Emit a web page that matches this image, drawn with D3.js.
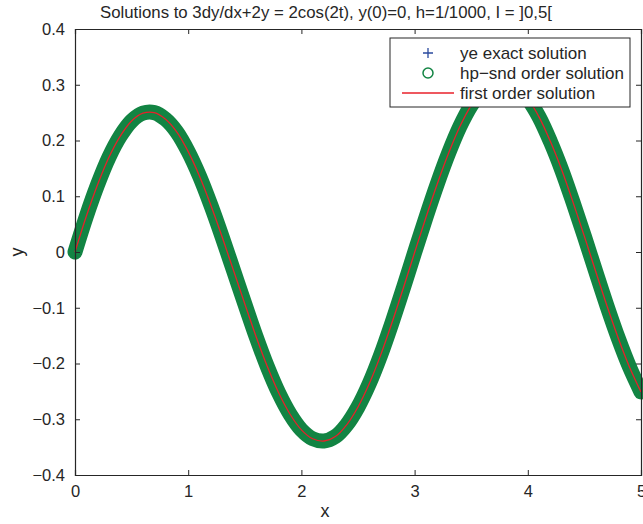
<!DOCTYPE html>
<html>
<head>
<meta charset="utf-8">
<script src="https://cdn.jsdelivr.net/npm/d3@7"></script>
<style>
  body { margin: 0; background: #fff; }
  text { font-family: "Liberation Sans", Arial, Helvetica, sans-serif; fill: #262626; }
</style>
</head>
<body>
<div id="chart"></div>
<script>
// values, every 0.1 in x
const xs = [0, 0.1, 0.2, 0.3, 0.4, 0.5, 0.6, 0.7, 0.8, 0.9,
  1.0, 1.1, 1.2, 1.3, 1.4, 1.5, 1.6, 1.7, 1.8, 1.9,
  2.0, 2.1, 2.2, 2.3, 2.4, 2.5, 2.6, 2.7, 2.8, 2.9,
  3.0, 3.1, 3.2, 3.3, 3.4, 3.5, 3.6, 3.7, 3.8, 3.9,
  4.0, 4.1, 4.2, 4.3, 4.4, 4.5, 4.6, 4.7, 4.8, 4.9, 5.0];
const ys = [0, 0.064, 0.121, 0.170, 0.208, 0.235, 0.249, 0.250, 0.238, 0.215,
  0.180, 0.136, 0.084, 0.027, -0.033, -0.093, -0.152, -0.206, -0.253, -0.291,
  -0.319, -0.335, -0.339, -0.331, -0.310, -0.278, -0.236, -0.185, -0.127, -0.065,
  -0.001, 0.062, 0.122, 0.177, 0.225, 0.263, 0.290, 0.305, 0.308, 0.298,
  0.275, 0.242, 0.198, 0.147, 0.089, 0.028, -0.035, -0.097, -0.155, -0.207, -0.251];

const xTicks = [0, 1, 2, 3, 4, 5];
const yTicks = [-0.4, -0.3, -0.2, -0.1, 0, 0.1, 0.2, 0.3, 0.4];
const legendLabels = ['ye exact solution', 'hp\u2212snd order solution', 'first order solution'];

const width = 643, height = 524;
const mLeft = 75, mRight = 641, mTop = 29, mBottom = 475;
const green = '#128443', red = '#e8202a', blue = '#2a4a9e', axisColor = '#262626';

const svg = d3.select('#chart').append('svg')
  .attr('width', width)
  .attr('height', height);

const x = d3.scaleLinear().domain([0, 5]).range([mLeft, mRight]);
const y = d3.scaleLinear().domain([-0.4, 0.4]).range([mBottom, mTop]);

const pts = xs.map((v, i) => [v, ys[i]]);
const line = d3.line()
  .x(d => x(d[0]))
  .y(d => y(d[1]))
  .curve(d3.curveCatmullRom);

// exact solution (covered by the other two)
svg.append('path').attr('d', line(pts))
  .attr('fill', 'none').attr('stroke', blue).attr('stroke-width', 6);
// hp-snd order solution: dense circle markers form a band
svg.append('path').attr('d', line(pts))
  .attr('fill', 'none').attr('stroke', green)
  .attr('stroke-width', 15).attr('stroke-linecap', 'round').attr('stroke-linejoin', 'round');
// first order solution
svg.append('path').attr('d', line(pts))
  .attr('fill', 'none').attr('stroke', red).attr('stroke-width', 1.3);

// axes box
const fmtY = d => d === 0 ? '0' : (d < 0 ? '\u2212' + Math.abs(d).toFixed(1) : d.toFixed(1));

const xAxisB = svg.append('g').attr('transform', `translate(0,${mBottom})`)
  .call(d3.axisBottom(x).tickValues(xTicks).tickSize(-5).tickPadding(10).tickFormat(d3.format('d')));
const xAxisT = svg.append('g').attr('transform', `translate(0,${mTop})`)
  .call(d3.axisTop(x).tickValues(xTicks).tickSize(-5).tickFormat(''));
const yAxisL = svg.append('g').attr('transform', `translate(${mLeft},0)`)
  .call(d3.axisLeft(y).tickValues(yTicks).tickSize(-5).tickPadding(10).tickFormat(fmtY));
const yAxisR = svg.append('g').attr('transform', `translate(${mRight},0)`)
  .call(d3.axisRight(y).tickValues(yTicks).tickSize(-5).tickFormat(''));

[xAxisB, xAxisT, yAxisL, yAxisR].forEach(g => {
  g.select('.domain').attr('stroke', axisColor).attr('stroke-width', 1.2);
  g.selectAll('.tick line').attr('stroke', axisColor).attr('stroke-width', 1);
  g.selectAll('.tick text').attr('font-size', 16.5).attr('fill', axisColor)
    .style('font-family', '"Liberation Sans", Arial, sans-serif');
});

// title and axis labels
svg.append('text').attr('x', 326).attr('y', 18).attr('text-anchor', 'middle')
  .attr('font-size', 16.8).text('Solutions to 3dy/dx+2y = 2cos(2t), y(0)=0, h=1/1000, I = ]0,5[');
svg.append('text').attr('x', 325).attr('y', 517).attr('text-anchor', 'middle')
  .attr('font-size', 18).text('x');
svg.append('text').attr('transform', 'translate(23,252) rotate(-90)').attr('text-anchor', 'middle')
  .attr('font-size', 18).text('y');

// legend
const lg = svg.append('g');
lg.append('rect').attr('x', 390).attr('y', 38).attr('width', 240).attr('height', 69)
  .attr('fill', '#fff').attr('stroke', axisColor).attr('stroke-width', 1);
const rowY = [53, 73, 93];
lg.selectAll('text.lab').data(legendLabels).enter().append('text')
  .attr('class', 'lab')
  .attr('x', 460).attr('y', (d, i) => rowY[i]).attr('dy', '0.35em')
  .attr('font-size', 17).text(d => d);
lg.append('path')
  .attr('d', `M${428 - 5},${rowY[0]}h10M${428},${rowY[0] - 5}v10`)
  .attr('stroke', blue).attr('stroke-width', 1.3);
lg.append('circle').attr('cx', 428).attr('cy', rowY[1]).attr('r', 5)
  .attr('fill', 'none').attr('stroke', green).attr('stroke-width', 1.5);
lg.append('line').attr('x1', 402).attr('x2', 454).attr('y1', rowY[2]).attr('y2', rowY[2])
  .attr('stroke', red).attr('stroke-width', 1.3);
</script>
</body>
</html>
